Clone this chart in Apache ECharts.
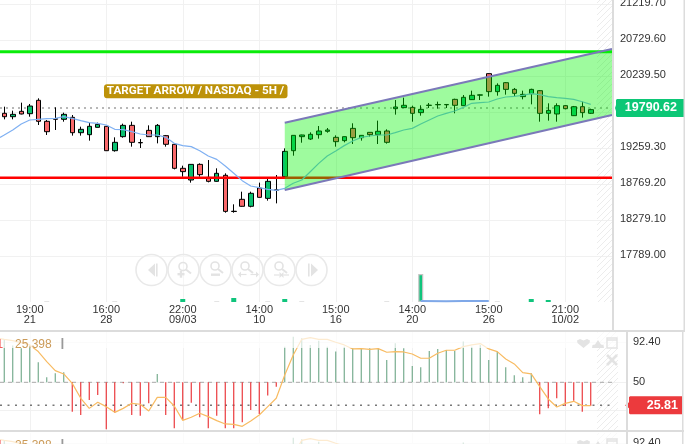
<!DOCTYPE html>
<html>
<head>
<meta charset="utf-8">
<style>html,body{margin:0;padding:0;background:#fff}#c{width:693px;height:444px}</style>
<script src="https://cdn.jsdelivr.net/npm/echarts@6/dist/echarts.min.js"></script>
</head>
<body>
<div id="c"></div>
<script>
// open, close, low, high
const candles = [
[19718,19672,19636,19808],[19672,19704,19636,19754],[19745,19709,19704,19863],[19713,19817,19672,19845],
[19895,19609,19559,19922],[19609,19468,19423,19627],[19645,19637,19491,19799],[19636,19704,19604,19727],
[19663,19454,19414,19695],[19454,19500,19414,19536],[19427,19541,19346,19591],[19527,19568,19525,19591],
[19541,19209,19207,19545],[19209,19323,19196,19391],[19400,19554,19386,19577],[19554,19323,19264,19604],
[19320,19316,19246,19368],[19486,19400,19398,19554],[19400,19554,19309,19572],[19414,19296,19264,19423],
[19296,18969,18955,19300],[18969,18924,18855,19005],[18810,19023,18774,19025],[19023,18883,18855,19037],
[18846,18792,18778,19082],[18792,18901,18787,18969],[18874,18383,18365,18901],[18385,18381,18365,18479],
[18547,18452,18447,18651],[18452,18629,18438,18651],[18701,18574,18572,18774],[18560,18792,18529,18828],
[18676,18672,18492,18878],[18855,19200,18853,19241],[19209,19418,19141,19420],[19400,19423,19318,19427],
[19368,19432,19355,19459],[19427,19477,19373,19545],[19473,19491,19454,19518],[19391,19332,19264,19418],
[19346,19400,19323,19402],[19513,19386,19300,19582],[19386,19418,19346,19420],[19459,19427,19400,19461],
[19427,19473,19300,19618],[19477,19323,19305,19500],[19781,19804,19700,19899],[19795,19827,19793,19931],
[19799,19718,19604,19822],[19727,19772,19686,19827],[19825,19829,19790,19858],[19834,19838,19781,19877],
[19834,19838,19790,19845],[19908,19827,19718,19917],[19822,19936,19820,19967],[19904,19963,19899,20026],
[19965,19969,19899,19976],[20258,20013,19945,20262],[20013,20099,19958,20126],[20135,20044,19972,20144],
[20044,19990,19954,20063],[19945,19976,19908,20026],[19985,20044,19840,20053],[20026,19718,19604,20035],
[19718,19758,19618,19854],[19709,19822,19604,19854],[19822,19781,19772,19831],[19686,19808,19681,19818],
[19808,19727,19659,19877],[19718,19768,19709,19781]
];
const priceMA = [
19423,19491,19572,19627,19636,19645,19650,19672,19650,19618,19591,19582,19559,19500,19495,19468,19436,19423,19423,19391,
19309,19278,19264,19209,19137,19091,19001,18901,18801,18728,18706,18683,18669,18697,18765,18810,18923,19037,19137,19205,
19278,19341,19391,19409,19423,19423,19455,19491,19513,19572,19627,19681,19718,19750,19799,19854,19863,19872,19913,19940,
19949,19963,19985,19972,19945,19931,19922,19908,19876,19840
];
const volume = {5:1,13:1,21:3,25:1,27:4,31:1,33:3,35:1,45:1,49:28,58:1,62:3,64:2};
const volumeMA = [[49,1],[52,0.7],[54,1],[57,1]];
const rsiBars = [
94.5,88.6,85.8,89.3,71.0,55.3,59.5,60.5,19.1,15.6,31.4,36.7,0.6,18.1,49.0,15.6,14.9,27.9,58.8,15.6,
1.6,10.4,28.6,13.2,1.6,14.9,1.6,1.6,7.9,20.9,16.7,36.0,45.4,87.5,98.0,96.3,89.3,93.8,87.5,82.3,
87.5,85.8,85.8,85.8,85.8,73.5,91.0,85.8,67.2,65.8,83.0,85.1,84.0,83.0,92.8,87.5,89.3,73.5,82.3,65.8,
57.4,55.3,59.5,16.3,22.6,33.2,25.1,30.7,19.1,25.1
];
const rsiLine = [
95.2,93.8,91.7,89.3,82.3,71.7,62.3,58.8,48.9,33.2,22.6,29.0,24.4,18.4,22.6,27.9,26.9,19.8,34.2,34.2,
25.1,10.0,13.2,17.4,13.9,9.7,6.2,5.8,3.7,9.3,15.6,24.4,33.2,57.7,78.8,95.2,97.0,95.2,95.2,92.1,
89.3,85.1,85.4,84.7,85.4,81.6,82.3,81.9,79.8,75.3,75.3,80.5,83.7,83.7,87.5,89.3,90.7,85.1,82.3,74.5,
69.3,60.2,58.8,45.4,32.5,24.0,27.9,30.0,25.5,25.5
];
const priceTicks = [17789.00,18279.10,18769.20,19259.30,19749.40,20239.50,20729.60,21219.70];
const priceGridLines = [17775,18265,18755,19245,19735,20225,20715,21205];
const rsiLabelTicks = [92.40,50];
const rsiGridTicks = [92.40,50,20.9];
const timeTickIndex = [3,12,21,30,39,48,57,66];
const timeLabels = ['19:00\n21','16:00\n28','22:00\n09/03','14:00\n10','15:00\n16','14:00\n20','15:00\n26','21:00\n10/02'];
const lastPrice = 19790.62, lastRsi = 25.81, rsiMid = 50;
const greenLevel = 20557, redLevel = 18840;
const channelX = [33, 71.5], channelTop = [19590, 20593], channelBottom = [18674, 19695];
const titleText = 'TARGET ARROW / NASDAQ - 5H /';
const legendValue = '25.398';

const FONT = '"Liberation Sans", Arial, sans-serif';
const STEP = 8.5;
const cats = candles.map((_, i) => String(i)).concat(['a', 'b']);
const PRICE_MIN = 17149.2, PRICE_MAX = 21260.6, VOL_MAX = 302;

const hatch = document.createElement('canvas');
hatch.width = 6; hatch.height = 6;
(function(){ const g = hatch.getContext('2d'); g.strokeStyle = '#ececec'; g.lineWidth = 1;
  g.beginPath(); g.moveTo(-1,7); g.lineTo(7,-1); g.moveTo(-1,1); g.lineTo(1,-1); g.moveTo(5,7); g.lineTo(7,5); g.stroke(); })();

function tagSeries(name, value, xa, ya, x0, x1, tip, hh, fill, pad) {
  return { type:'custom', name, xAxisIndex:xa, yAxisIndex:ya, silent:true, z:30, data:[[0,value]], clip:false,
    renderItem(p, api) {
      const y = api.coord([0, api.value(1)])[1];
      return { type:'group', children:[
        { type:'polygon', shape:{ points:[[tip,y],[x0,y-3],[x0,y-hh+1],[x0+1,y-hh],[x1,y-hh],[x1,y+hh],[x0+1,y+hh],[x0,y+hh-1],[x0,y+3]] }, style:{ fill } },
        { type:'text', x:x1-pad, y, style:{ text: api.value(1).toFixed(2), fill:'#fff', font:'bold 12.5px '+FONT, align:'right', verticalAlign:'middle' } }
      ]};
    }
  };
}
function flatLine(xa, ya, x0, x1, v, color, width, type, z) {
  return { type:'line', xAxisIndex:xa, yAxisIndex:ya, data:[[x0,v],[x1,v]], symbol:'none', silent:true, z:z||3,
    lineStyle:{ color, width, type } };
}
const xMaxSub = 626/STEP - 0.5, refEnd = 615/STEP - 0.5;
function rsiSeries(xa, ya) {
  return [
    flatLine(xa, ya, -0.5, refEnd, rsiMid, '#aaa', 1, [4,4]),
    flatLine(xa, ya, -0.5, refEnd, lastRsi, '#777', 1.5, [2,5.5]),
    { type:'custom', xAxisIndex:xa, yAxisIndex:ya, silent:true, z:4, data:rsiBars.map((v,i)=>[i,v]),
      encode:{x:0,y:1},
      renderItem(p, api){
        const v = api.value(1), a = api.coord([api.value(0), rsiMid]), b = api.coord([api.value(0), v]);
        return { type:'line', shape:{x1:a[0],y1:a[1],x2:b[0],y2:b[1]},
          style:{ stroke: v>=rsiMid ? '#6ba585' : '#e9282c', lineWidth:1.1 } };
      }
    },
    { type:'line', xAxisIndex:xa, yAxisIndex:ya, silent:true, z:5, symbol:'none',
      data:[[-0.5,96]].concat(rsiLine.map((v,i)=>[i,v])),
      lineStyle:{ color:'#f8bb62', width:1.2 } }
  ];
}
function xValueAxis(gridIndex, max, labels) {
  return { type:'value', gridIndex, min:-0.5, max, position:'bottom',
    axisLine:{show:false},
    axisTick:{show:false, customValues:timeTickIndex},
    splitLine:{show:true, lineStyle:{color:'#f1f1f1', width:1}},
    axisLabel: labels ? { show:true, customValues:timeTickIndex, color:'#333', margin:3, lineHeight:10,
      fontFamily:FONT, fontSize:11, formatter:(v)=>timeLabels[timeTickIndex.indexOf(v)] } : {show:false} };
}
function yRsiAxis(gridIndex) {
  return { type:'value', gridIndex, position:'right', min:-1.2, max:102.9,
    axisLine:{show:false},
    axisTick:{show:false, customValues:rsiGridTicks},
    splitLine:{show:true, lineStyle:{color:'#f1f1f1', width:1}},
    axisLabel:{ customValues:rsiLabelTicks, color:'#333', margin:7, fontFamily:FONT, fontSize:11,
      formatter:(v)=> v===50 ? '50' : v.toFixed(2) } };
}

// y axes: 0 price(g0), 1 volume(g0), 2 rsi(g2), 3 rsi(g3), 4 price(g1), 5 volume(g1)
const series = [
  { type:'candlestick', xAxisIndex:0, yAxisIndex:0, data:candles, barWidth:5, silent:true, z:4,
    itemStyle:{ color:'#09c070', color0:'#f9696b', borderColor:'#000', borderColor0:'#000', borderColorDoji:'#000', borderWidth:1 } },
  { type:'bar', xAxisIndex:0, yAxisIndex:1, barWidth:5, silent:true, z:3,
    data:cats.map((_,i)=> volume[i] ? { value:volume[i], itemStyle:{
        color: volume[i]>1 ? '#10c47c' : '#e4e4e4',
        borderColor: volume[i]>10 ? '#c4c4c4' : 'transparent', borderWidth: volume[i]>10 ? 1.2 : 0 } } : 0) },
  { type:'line', xAxisIndex:1, yAxisIndex:5, symbol:'none', silent:true, z:3, data:volumeMA,
    lineStyle:{ color:'#7fa8e8', width:2 } },
  flatLine(1, 4, -0.5, 71.5, lastPrice, '#a0a0a0', 1.6, [2,4], 3),
  flatLine(1, 4, -0.5, 71.5, greenLevel, '#0aec0a', 3, 'solid', 5),
  flatLine(1, 4, -0.5, 71.5, redLevel, '#ff0000', 2.4, 'solid', 5),
  { type:'line', xAxisIndex:1, yAxisIndex:4, symbol:'none', silent:true, z:6,
    data:[[-0.5,19390]].concat(priceMA.map((v,i)=>[i,v])),
    lineStyle:{ color:'#7fb0f2', width:1.2 } },
  { type:'custom', xAxisIndex:1, yAxisIndex:4, silent:true, z:10, data:[[channelX[0], channelTop[0]]],
    renderItem(p, api){
      const tl = api.coord([channelX[0], channelTop[0]]), tr = api.coord([channelX[1], channelTop[1]]);
      const bl = api.coord([channelX[0], channelBottom[0]]), br = api.coord([channelX[1], channelBottom[1]]);
      const edge = '#7b79b9';
      return { type:'group', children:[
        { type:'polygon', shape:{points:[tl,tr,br,bl]}, style:{ fill:'rgba(0,245,0,0.38)' } },
        { type:'line', shape:{x1:tl[0],y1:tl[1],x2:tr[0],y2:tr[1]}, style:{ stroke:edge, lineWidth:2 } },
        { type:'line', shape:{x1:bl[0],y1:bl[1],x2:br[0],y2:br[1]}, style:{ stroke:edge, lineWidth:2 } }
      ]};
    } },
  tagSeries('priceTag', lastPrice, 1, 4, 616, 684, 615, 9, '#0cc776', 7),
  ...rsiSeries(2, 2),
  ...rsiSeries(3, 3),
  tagSeries('rsiTag', lastRsi, 2, 2, 629, 682, 625, 9, '#ec3a3d', 4)
];

const GLYPH = '#e3e3e3', RING = '#e9e9e9';
function rect(x,y,w,h,fill,z){ return {type:'rect',shape:{x,y,width:w,height:h},style:{fill},z:z||50,silent:true}; }
function ln(x1,y1,x2,y2,w,c){ return {type:'line',shape:{x1,y1,x2,y2},style:{stroke:c||GLYPH,lineWidth:w||1.5},z:51,silent:true}; }
function mag(cx,cy){ return [ {type:'circle',shape:{cx,cy,r:4},style:{fill:'none',stroke:GLYPH,lineWidth:1.6},z:51,silent:true}, ln(cx+3,cy+3,cx+8,cy+7,2) ]; }
function poly(points,fill){ return {type:'polygon',shape:{points},style:{fill:fill||GLYPH},z:51,silent:true}; }
function arrowPair(y,x1,x2,inward){ const m=(x1+x2)/2, s=3, out=[];
  out.push(ln(x1,y,m-2,y,1.2), ln(m+2,y,x2,y,1.2));
  if(inward){ out.push(poly([[m-2,y-s],[m-2,y+s],[m+1,y]]),poly([[m+2,y-s],[m+2,y+s],[m-1,y]])); }
  else { out.push(poly([[x1,y-s],[x1,y+s],[x1-3,y]]),poly([[x2,y-s],[x2,y+s],[x2+3,y]])); }
  return out; }
function toolbar(){
  const cs = [151.5,183.5,215.5,247.5,279.5,311.5], cy = 270, out = [];
  cs.forEach(cx=>out.push({type:'circle',shape:{cx,cy,r:15.5},style:{fill:'rgba(255,255,255,0.35)',stroke:RING,lineWidth:1.6},z:50,silent:true}));
  out.push(poly([[148,270],[155,263.5],[155,276.5]]), rect(156,263.5,1.6,13,GLYPH,51));
  out.push(...mag(183,266.5), rect(177.5,273,7,2.4,GLYPH,51), rect(179.8,270.7,2.4,7,GLYPH,51));
  out.push(...mag(215,266), rect(211,273.5,9,2.4,GLYPH,51));
  out.push(...mag(245,266), ...arrowPair(274.5,241,256,false));
  out.push(...mag(279,266), ...arrowPair(275,274,289,true));
  out.push(rect(308,263.5,1.6,13,GLYPH,51), poly([[311,263.5],[311,276.5],[318,270]]));
  return out;
}
function legend(dy){
  const out = [ rect(0,332+dy,626,16,'rgba(255,255,255,0.7)',40) ];
  const t = (x,text,fill)=>({type:'text',x,y:344.5+dy,style:{text,fill,font:'12px '+FONT,verticalAlign:'middle'},z:52,silent:true});
  out.push(t(-3.5,'1','#f25c5c'), t(15,legendValue,'#cb9a57'), rect(61.5,338+dy,1.8,11,'#999',52));
  out.push(poly([[577,340.5+dy],[580,339+dy],[583.5,340.5+dy],[587,339+dy],[590,340.5+dy],[589.5,343+dy],[583.5,348+dy],[577.5,343+dy]]));
  out.push(poly([[592,348+dy],[592.5,345+dy],[595,344.5+dy],[598,340+dy],[601,344.5+dy],[603.5,345+dy],[604,348+dy]]));
  out.push({type:'rect',shape:{x:607,y:338+dy,width:10,height:10},style:{fill:'none',stroke:'#e3e3e3',lineWidth:1.4},z:51,silent:true}, ln(607,340+dy,617,340+dy,1.5));
  out.push(ln(607,355+dy,617,365+dy,2.6), ln(617,355+dy,607,365+dy,2.6));
  return out;
}
const hatchFill = { image:hatch, repeat:'repeat' };
const graphic = { elements:[
  {type:'rect',shape:{x:597,y:0,width:15,height:302},style:{fill:hatchFill},z:1,silent:true},
  {type:'rect',shape:{x:597,y:332,width:21,height:98},style:{fill:hatchFill},z:1,silent:true},
  {type:'rect',shape:{x:597,y:433,width:21,height:11},style:{fill:hatchFill},z:1,silent:true},
  rect(612,0,2,331,'#dcdcdc'), rect(683.5,0,1.5,331,'#dcdcdc'),
  rect(0,330,685,2,'#dcdcdc'), rect(0,430,684,2,'#dcdcdc'),
  rect(626,331,2,113,'#dcdcdc'), rect(682,331,1.5,113,'#dcdcdc'),
  {type:'rect',shape:{x:104,y:84.3,width:183.5,height:14,r:3},style:{fill:'#bd9209'},z:60,silent:true},
  {type:'text',x:195.5,y:91.5,style:{text:titleText,fill:'#fff',font:'bold 11.7px Roboto, '+FONT,align:'center',verticalAlign:'middle'},z:61,silent:true},
  ...toolbar(), ...legend(0), ...legend(101)
]};

const chart = echarts.init(document.getElementById('c'), null, {renderer:'canvas', width:693, height:444});
chart.setOption({
  animation:false, backgroundColor:'#fff',
  textStyle:{fontFamily:FONT},
  grid:[
    {left:0, top:0, width:612, height:302, outerBoundsMode:'none'},
    {left:0, top:0, width:612, height:302, outerBoundsMode:'none'},
    {left:0, top:332, width:626, height:99, outerBoundsMode:'none'},
    {left:0, top:433, width:626, height:99, outerBoundsMode:'none'}
  ],
  xAxis:[
    {type:'category', gridIndex:0, data:cats, show:false, boundaryGap:true},
    xValueAxis(1, 71.5, true),
    xValueAxis(2, xMaxSub, false),
    xValueAxis(3, xMaxSub, false)
  ],
  yAxis:[
    { type:'value', gridIndex:0, position:'right', min:PRICE_MIN, max:PRICE_MAX,
      axisLine:{show:false},
      axisTick:{show:false, customValues:priceGridLines},
      splitLine:{show:true, lineStyle:{color:'#f1f1f1', width:1}},
      axisLabel:{ customValues:priceTicks, color:'#333', margin:8, fontFamily:FONT, fontSize:11, formatter:(v)=>v.toFixed(2) } },
    { type:'value', gridIndex:0, min:0, max:VOL_MAX, show:false, splitLine:{show:false} },
    yRsiAxis(2), yRsiAxis(3),
    { type:'value', gridIndex:1, min:PRICE_MIN, max:PRICE_MAX, show:false, splitLine:{show:false} },
    { type:'value', gridIndex:1, min:0, max:VOL_MAX, show:false, splitLine:{show:false} }
  ],
  series,
  graphic
});
</script>
</body>
</html>
